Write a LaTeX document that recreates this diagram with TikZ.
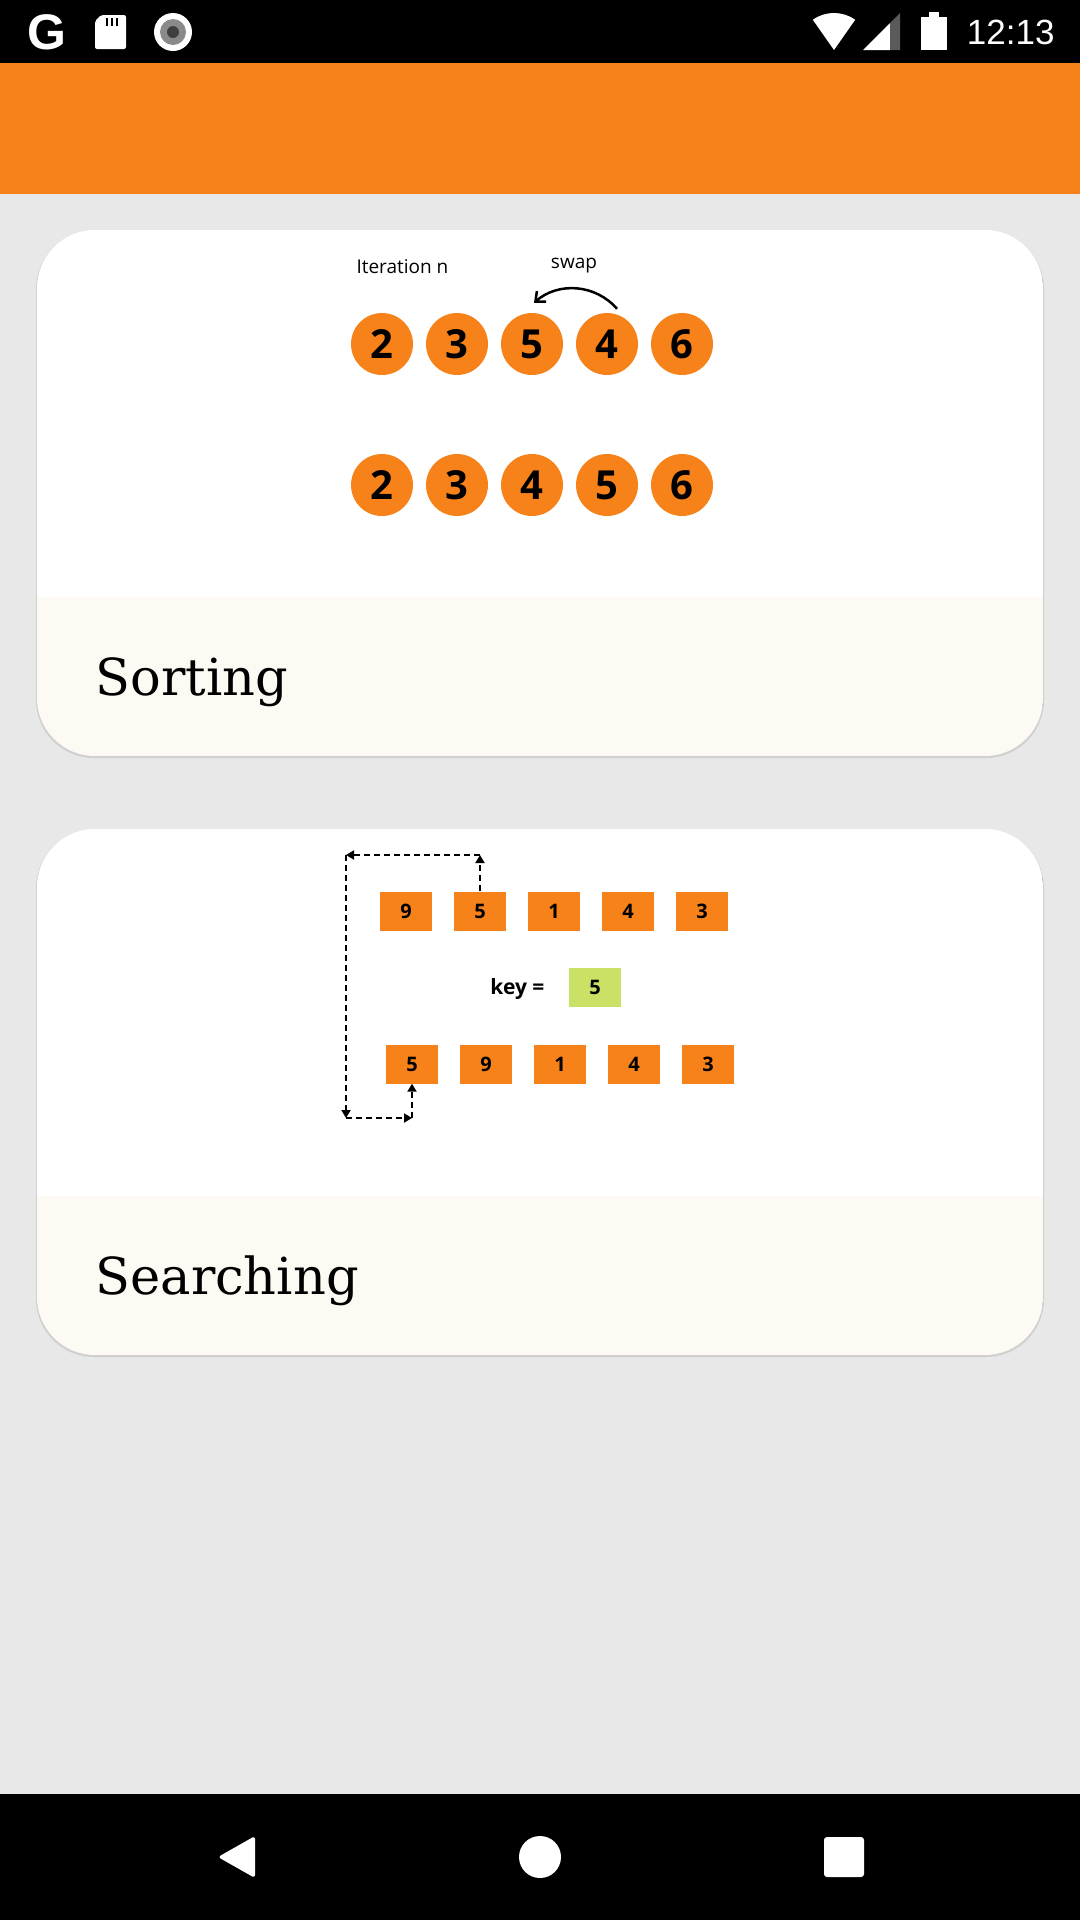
\documentclass[tikz,border=0pt]{standalone}
\usepackage{fontspec}
\usetikzlibrary{arrows.meta, positioning}
\newfontfamily\uisans{Open Sans}
\newfontfamily\barsans{Liberation Sans}
\newfontfamily\cardserif{DejaVu Serif}
\definecolor{appbar}{HTML}{F8821A}
\definecolor{pagegray}{HTML}{E8E8E8}
\definecolor{cardcream}{HTML}{FDF9F3}
\definecolor{cardedge}{HTML}{D0D0D0}
\definecolor{keygreen}{HTML}{C9E265}
\definecolor{signalgray}{HTML}{5A5A5A}
\definecolor{ringgray}{HTML}{8A8A8A}

\tikzset{
  ball/.style={circle, fill=appbar, minimum size=62pt, inner sep=0pt, font=\uisans\bfseries\fontsize{40}{40}\selectfont},
  cell/.style={rectangle, fill=appbar, minimum width=52pt, minimum height=39pt, inner sep=0pt, font=\uisans\bfseries\fontsize{20}{20}\selectfont},
  keycell/.style={cell, fill=keygreen},
  hint/.style={font=\uisans\fontsize{19}{19}\selectfont},
  trail/.style={black, line width=2.3pt, dash pattern=on 6pt off 4pt, -{Triangle[length=8pt, width=9pt]}},
  title/.style={anchor=base west, font=\cardserif\fontsize{51}{51}\selectfont},
}

\begin{document}
\begin{tikzpicture}[x=1pt, y=-1pt]
\useasboundingbox (0,0) rectangle (1080,1920);
\fill[pagegray] (0,0) rectangle (1080,1920);

% status bar
\fill[black] (0,0) rectangle (1080,63);
\node[white, font=\barsans\bfseries\fontsize{50}{50}\selectfont] (gicon) at (47,32) {G};
\fill[white, rounded corners=2pt] (101,15) -- (126,15) -- (126,49) -- (95,49) -- (95,21) -- cycle;
\draw[black, line width=2pt] (107,18) -- (107,26);
\draw[black, line width=2pt] (112,18) -- (112,26);
\draw[black, line width=2pt] (117,18) -- (117,26);
\fill[white] (173,32) circle[radius=19];
\fill[ringgray] (173,32) circle[radius=13];
\fill[signalgray!70!black] (173,32) circle[radius=6];
\fill[white] (834,50) -- ++(-55:37) arc[start angle=-55, end angle=-125, radius=37] -- cycle;
\fill[white] (863,50) -- (890,50) -- (890,23) -- cycle;
\fill[signalgray] (890,50) -- (900,50) -- (900,13) -- (890,23) -- cycle;
\fill[white] (921,17) rectangle (947,50);
\fill[white] (929,12) rectangle (939,17);
\node[white, anchor=east, font=\barsans\fontsize{35}{35}\selectfont] (clock) at (1058,32) {12:13};

% app bar
\fill[appbar] (0,63) rectangle (1080,194);

% card: sorting
\fill[cardedge, rounded corners=58pt] (36,231) rectangle (1044,758);
\begin{scope}
\clip[rounded corners=58pt] (37,230) rectangle (1043,756);
\fill[white] (37,230) rectangle (1043,597);
\fill[cardcream] (37,597) rectangle (1043,756);
\end{scope}

\node[hint, anchor=west] (iter) at (353,267) {Iteration n};
\node[hint] (swap) at (574,266) {swap};
\node[ball] (t1) at (382,344) {2};
\node[ball] (t2) at (457,344) {3};
\node[ball] (t3) at (532,344) {5};
\node[ball] (t4) at (607,344) {4};
\node[ball] (t5) at (682,344) {6};
\draw[line width=2.5pt, -{Straight Barb[length=8pt, width=14pt]}] ([xshift=10pt, yshift=4pt]t4.north) to[bend right=45] ([xshift=2pt, yshift=10pt]t3.north);
\node[ball] (b1) at (382,485) {2};
\node[ball] (b2) at (457,485) {3};
\node[ball] (b3) at (532,485) {4};
\node[ball] (b4) at (607,485) {5};
\node[ball] (b5) at (682,485) {6};
\node[title] (sorttitle) at (92,695) {Sorting};

% card: searching
\fill[cardedge, rounded corners=58pt] (36,830) rectangle (1044,1357);
\begin{scope}
\clip[rounded corners=58pt] (37,829) rectangle (1043,1355);
\fill[white] (37,829) rectangle (1043,1196);
\fill[cardcream] (37,1196) rectangle (1043,1355);
\end{scope}

\node[cell] (s1) at (406,911) {9};
\node[cell] (s2) at (480,911) {5};
\node[cell] (s3) at (554,911) {1};
\node[cell] (s4) at (628,911) {4};
\node[cell] (s5) at (702,911) {3};
\node[anchor=east, font=\uisans\bfseries\fontsize{21}{21}\selectfont] (keylabel) at (548,989) {key =};
\node[keycell] (key) at (595,987) {5};
\node[cell] (r1) at (412,1064) {5};
\node[cell] (r2) at (486,1064) {9};
\node[cell] (r3) at (560,1064) {1};
\node[cell] (r4) at (634,1064) {4};
\node[cell] (r5) at (708,1064) {3};
\coordinate (tr) at (480,855);
\coordinate (tl) at (346,855);
\coordinate (bl) at (346,1118);
\coordinate (br) at (412,1118);
\draw[trail] (s2.north) -- (tr);
\draw[trail] (tr) -- (tl);
\draw[trail] (tl) -- (bl);
\draw[trail] (bl) -- (br);
\draw[trail] (br) -- (r1.south);
\node[title] (searchtitle) at (92,1294) {Searching};

% navigation bar
\fill[black] (0,1794) rectangle (1080,1920);
\fill[white, rounded corners=3pt] (218,1857) -- (255,1836) -- (255,1878) -- cycle;
\fill[white] (540,1857) circle[radius=21];
\fill[white, rounded corners=3pt] (824,1837) rectangle (864,1877);

\end{tikzpicture}
\end{document}
